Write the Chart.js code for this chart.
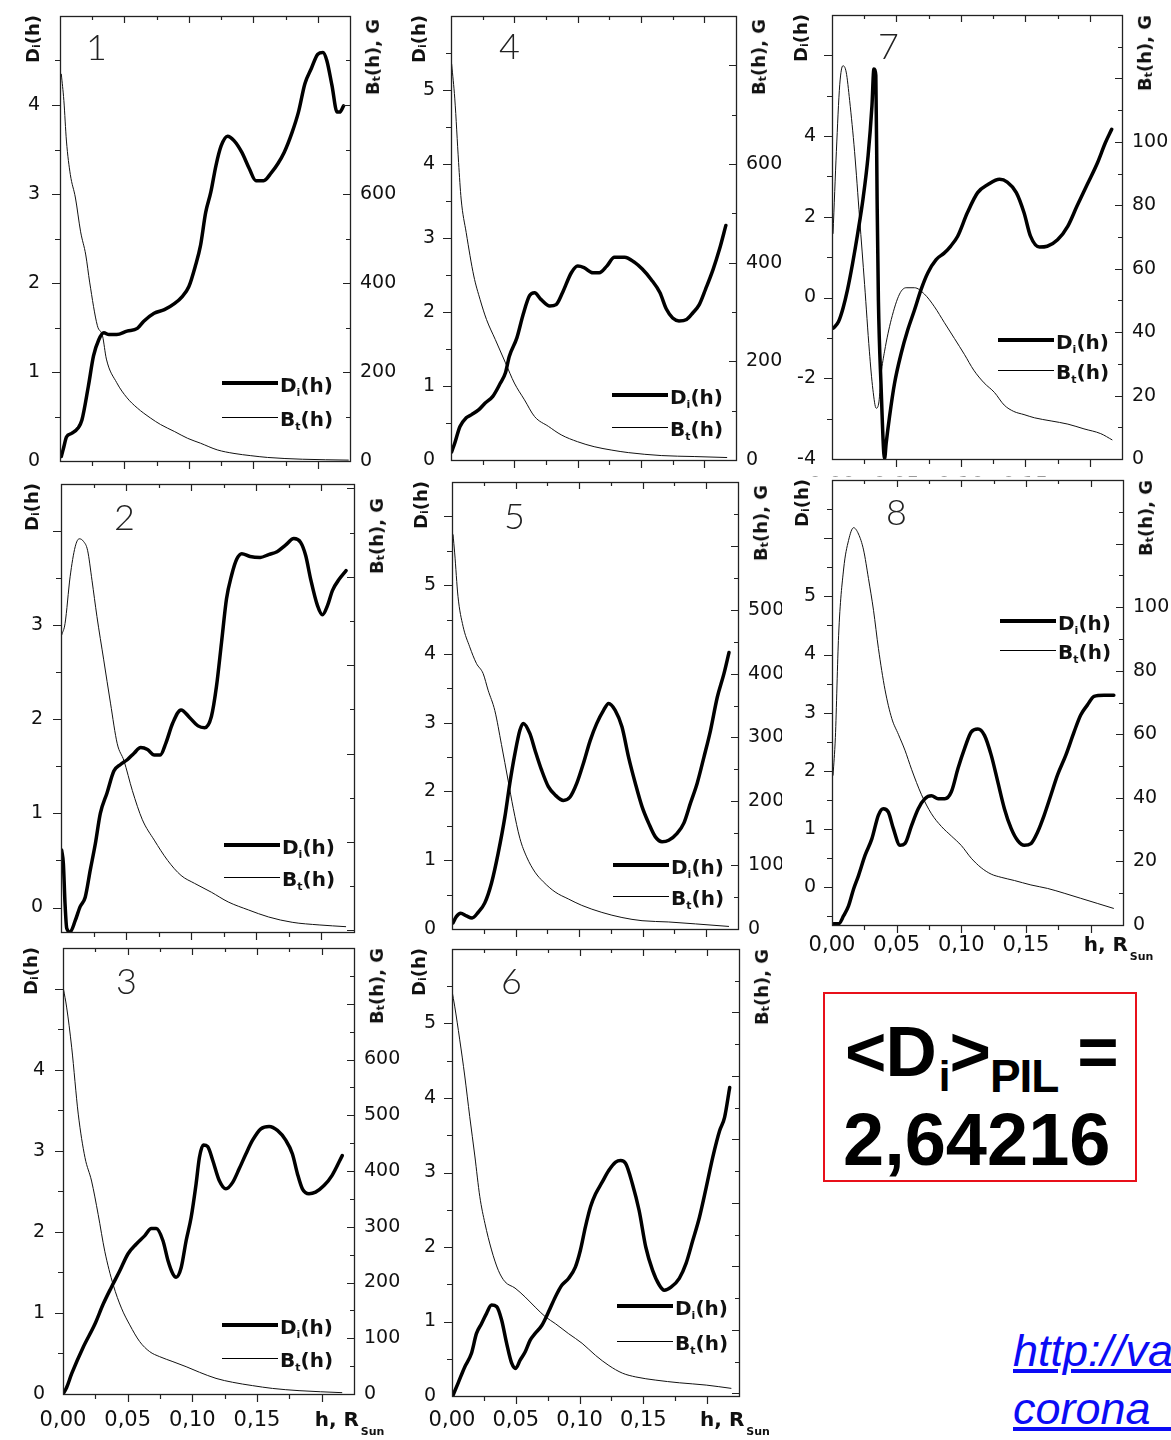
<!DOCTYPE html>
<html>
<head>
<meta charset="utf-8">
<script src="https://cdn.jsdelivr.net/npm/chart.js@4.4.1/dist/chart.umd.min.js"></script>
<style>
  html, body { margin: 0; padding: 0; background: #fff; }
  body { width: 1171px; height: 1440px; position: relative; overflow: hidden; font-family: "DejaVu Sans", sans-serif; }
  .panel { position: absolute; }
  .panel.white { background: #fff; }
  .panel canvas { display: block; }
  .ov { position: absolute; white-space: nowrap; color: #111; }
  .ytitle { writing-mode: vertical-rl; transform: rotate(180deg); font: bold 18px "DejaVu Sans"; line-height: 20px; }
  .ytitle sub, .leg sub { font-size: 11px; vertical-align: -4px; line-height: 0; }
  .leg { font: bold 20px "DejaVu Sans"; line-height: 20px; }
  .legline { position: absolute; background: #000; }
  .num { font-family: Lato, "DejaVu Sans", sans-serif; font-weight: 300; font-size: 36px; line-height: 36px; color: #222; }
  .xtitle { font: bold 20px "DejaVu Sans"; line-height: 20px; }
  .xtitle sub { font-size: 11px; vertical-align: -9px; line-height: 0; margin-left: 2px; }
  .big { position: absolute; font-family: "Liberation Sans", Arial, sans-serif; font-weight: bold; color: #000; white-space: nowrap; }
</style>
</head>
<body>
<div style="position:absolute;left:823px;top:992px;width:310px;height:186px;border:2px solid #e8101a;"></div>
<div class="big" style="left:845px;top:1015px;font-size:71px;line-height:73px;letter-spacing:-1px;">&lt;D<span style="font-size:42px;position:relative;top:15px;margin-left:3px;">i</span>&gt;<span style="font-size:46px;position:relative;top:16px;">PIL</span> =</div>
<div class="big" style="left:843px;top:1103px;font-size:74px;line-height:73px;">2,64216</div>
<div style="position:absolute;left:1013px;top:1322px;width:158px;overflow:hidden;font:italic 45px 'Liberation Sans',Arial,sans-serif;line-height:58px;color:#0b0bf5;text-decoration:underline;white-space:nowrap;">http://va<br>corona_</div>

<script>
// shared x axis
const xMax = 0.225;
const xTickValues = [0, 0.05, 0.10, 0.15];
const xTickText = ['0,00', '0,05', '0,10', '0,15'];

// panel 1
const d1x = [0.001,0.003,0.005,0.009,0.014,0.017,0.022,0.026,0.030,0.034,0.038,0.044,0.052,0.060,0.065,0.073,0.081,0.089,0.095,0.100,0.105,0.109,0.113,0.117,0.121,0.125,0.130,0.135,0.141,0.147,0.152,0.158,0.164,0.169,0.174,0.180,0.185,0.190,0.195,0.200,0.204,0.207,0.211,0.215,0.217,0.220];
const d1y = [0.05,0.16,0.27,0.31,0.37,0.46,0.84,1.18,1.36,1.44,1.42,1.42,1.46,1.49,1.57,1.66,1.70,1.77,1.85,1.96,2.19,2.42,2.79,3.02,3.32,3.54,3.65,3.60,3.47,3.28,3.15,3.15,3.24,3.34,3.47,3.69,3.92,4.24,4.41,4.57,4.59,4.50,4.22,3.92,3.92,3.99];
const b1x = [0.001,0.003,0.005,0.008,0.012,0.016,0.020,0.023,0.029,0.033,0.036,0.044,0.052,0.060,0.070,0.078,0.089,0.099,0.109,0.122,0.135,0.148,0.161,0.188,0.224];
const b1y = [870,810,719,644,591,515,463,402,304,281,229,176,142,119,97,82,66,51,40,25,17,12,8,4,2];
const p1Left = [0,1,2,3,4], p1Right = [0,200,400,600];

// panel 4
const d4x = [0.0005,0.003,0.007,0.012,0.016,0.022,0.027,0.033,0.039,0.043,0.046,0.052,0.057,0.062,0.066,0.071,0.078,0.083,0.088,0.095,0.100,0.105,0.112,0.117,0.123,0.129,0.137,0.145,0.151,0.158,0.165,0.170,0.175,0.180,0.186,0.191,0.196,0.201,0.207,0.212,0.217];
const d4y = [0.11,0.23,0.45,0.57,0.61,0.68,0.77,0.86,1.04,1.18,1.40,1.65,1.97,2.22,2.26,2.17,2.08,2.10,2.26,2.53,2.62,2.60,2.53,2.53,2.62,2.74,2.74,2.67,2.58,2.44,2.26,2.04,1.92,1.88,1.90,1.99,2.10,2.31,2.58,2.85,3.17];
const b4x = [0.0005,0.003,0.006,0.008,0.012,0.018,0.023,0.028,0.035,0.043,0.050,0.058,0.066,0.077,0.087,0.100,0.113,0.127,0.140,0.166,0.192,0.218];
const b4y = [803,732,603,529,461,373,325,285,244,197,156,122,88,68,51,37,27,20,15,9,7,5];
const p4Left = [0,1,2,3,4,5], p4Right = [0,200,400,600];

// panel 7
const d7x = [0.001,0.005,0.0085,0.012,0.016,0.020,0.024,0.028,0.031,0.0325,0.034,0.035,0.036,0.038,0.0408,0.042,0.0446,0.0485,0.0537,0.0588,0.064,0.069,0.0743,0.0808,0.087,0.092,0.0975,0.105,0.113,0.121,0.130,0.136,0.143,0.149,0.154,0.161,0.167,0.175,0.183,0.190,0.198,0.206,0.212,0.217];
const d7y = [-0.76,-0.60,-0.27,0.19,0.85,1.60,2.43,3.51,4.75,5.66,5.50,2.43,-0.06,-2.13,-3.99,-3.62,-2.96,-2.13,-1.38,-0.80,-0.31,0.19,0.61,0.94,1.10,1.27,1.52,2.10,2.60,2.80,2.93,2.86,2.60,2.10,1.52,1.25,1.27,1.43,1.77,2.26,2.80,3.34,3.83,4.17];
const b7x = [0.0008,0.0034,0.006,0.0085,0.011,0.0137,0.0175,0.0214,0.0253,0.029,0.0317,0.0343,0.0364,0.0382,0.0408,0.046,0.0524,0.0575,0.064,0.0717,0.0795,0.0872,0.095,0.1027,0.110,0.118,0.126,0.1336,0.141,0.149,0.157,0.170,0.183,0.1955,0.2085,0.2175];
const b7y = [71,97,118,124,122,113,97,76,55,34,22,16,18,27,34,44,52,54,54,52,48,43,38,33,28,24,21,17,15,14,13,12,11,9.5,8,6];
const p7Left = [-4,-2,0,2,4], p7Right = [0,20,40,60,80,100];

// panel 2
const d2x = [0.0005,0.0018,0.0031,0.0044,0.007,0.0109,0.0147,0.0186,0.0225,0.0264,0.0302,0.0354,0.0406,0.0457,0.0509,0.0561,0.0612,0.0664,0.0716,0.0762,0.0806,0.0858,0.0922,0.0987,0.1052,0.1103,0.1155,0.1194,0.1233,0.1271,0.131,0.1349,0.1388,0.1452,0.153,0.1594,0.1659,0.1724,0.1788,0.184,0.1879,0.1917,0.1969,0.2008,0.2047,0.2085,0.2137,0.2189];
const d2y = [0.61,0.47,0.04,-0.22,-0.26,-0.14,0.01,0.11,0.40,0.68,1.00,1.22,1.45,1.52,1.57,1.64,1.70,1.68,1.62,1.62,1.75,1.96,2.10,2.02,1.93,1.91,2.03,2.35,2.82,3.28,3.53,3.70,3.76,3.73,3.72,3.75,3.78,3.85,3.92,3.88,3.74,3.49,3.21,3.11,3.21,3.37,3.49,3.58];
const b2x = [0.0005,0.0031,0.007,0.0109,0.014,0.0173,0.0204,0.0238,0.0276,0.0328,0.038,0.0432,0.0483,0.0548,0.0625,0.0716,0.0819,0.0922,0.1026,0.1155,0.1284,0.1439,0.1594,0.1775,0.1982,0.2189];
const b2y = [334,347,400,434,443,440,430,396,355,306,257,211,192,158,125,102,79,62,53,43,32,23,15,9,6,4];
const p2Left = [0,1,2,3], p2Right = [0,100,200,300];

// panel 5
const d5x = [0.0008,0.0034,0.0068,0.0113,0.0158,0.0205,0.0258,0.0311,0.0363,0.0416,0.0455,0.0495,0.0534,0.0561,0.0613,0.0653,0.0705,0.0758,0.0811,0.0876,0.0929,0.0982,0.1034,0.1087,0.1139,0.1192,0.1232,0.1284,0.1337,0.1389,0.1442,0.1495,0.1547,0.16,0.1653,0.1705,0.1771,0.1824,0.1876,0.1929,0.1982,0.2034,0.2087,0.2139,0.2179];
const d5y = [0.09,0.18,0.23,0.19,0.16,0.24,0.38,0.67,1.10,1.63,2.12,2.55,2.89,2.99,2.84,2.60,2.31,2.07,1.95,1.87,1.92,2.12,2.41,2.74,2.99,3.18,3.28,3.18,2.94,2.50,2.12,1.78,1.54,1.34,1.27,1.29,1.39,1.54,1.83,2.12,2.50,2.89,3.37,3.71,4.02];
const b5x = [0.0008,0.0021,0.0047,0.0087,0.0139,0.0192,0.0245,0.0284,0.0337,0.0389,0.0442,0.0482,0.0534,0.0587,0.0653,0.0718,0.0811,0.0916,0.1021,0.1179,0.1337,0.1495,0.1705,0.1916,0.2179];
const b5y = [618,589,521,474,442,416,400,374,342,289,232,189,142,113,89,74,58,47,37,26,18,13,11,8,4];
const p5Left = [0,1,2,3,4,5], p5Right = [0,100,200,300,400,500];

// panel 8
const d8x = [0.0013,0.0051,0.009,0.0128,0.0167,0.0205,0.0256,0.0308,0.0359,0.0397,0.0436,0.0474,0.0526,0.0564,0.0615,0.0667,0.0718,0.0769,0.0821,0.0872,0.0923,0.0974,0.1026,0.1077,0.1128,0.1179,0.1231,0.1282,0.1333,0.1385,0.1436,0.1487,0.1538,0.159,0.1641,0.1692,0.1744,0.1808,0.1872,0.1923,0.1974,0.2026,0.2103,0.2179];
const d8y = [-0.63,-0.63,-0.49,-0.32,-0.03,0.20,0.55,0.83,1.24,1.35,1.29,1.01,0.72,0.75,1.06,1.35,1.52,1.57,1.52,1.52,1.64,2.04,2.39,2.67,2.72,2.61,2.27,1.81,1.35,1.01,0.80,0.72,0.75,0.95,1.24,1.58,1.93,2.27,2.67,2.96,3.13,3.28,3.30,3.30];
const b8x = [0.0008,0.0026,0.0051,0.009,0.0128,0.0167,0.0205,0.0244,0.0282,0.0321,0.0359,0.041,0.0462,0.0513,0.0564,0.0615,0.0692,0.0769,0.0846,0.0923,0.1,0.1077,0.1154,0.1231,0.1308,0.141,0.1538,0.1667,0.1795,0.1923,0.2051,0.2179];
const b8y = [47,59,91,112,121,125,123,118,109,99,87,74,65,60,55,49,41,35,31,28,25,21,18,16,15,14,12.6,11.5,10,8.4,6.8,5.2];
const p8Left = [0,1,2,3,4,5], p8Right = [0,20,40,60,80,100];

// panel 3
const d3x = [0.0008,0.0028,0.0067,0.0157,0.0246,0.0311,0.0375,0.0439,0.0503,0.0567,0.0631,0.0683,0.0721,0.0773,0.0811,0.085,0.0875,0.0914,0.0952,0.0991,0.1029,0.1055,0.1086,0.1119,0.1158,0.1209,0.126,0.1312,0.1363,0.1414,0.1466,0.153,0.1594,0.1658,0.1722,0.1774,0.1812,0.1851,0.1902,0.1953,0.2018,0.2082,0.2159];
const d3y = [0.02,0.08,0.25,0.58,0.86,1.11,1.32,1.52,1.73,1.85,1.95,2.04,2.04,1.89,1.65,1.48,1.44,1.56,1.89,2.18,2.59,2.92,3.07,3.05,2.88,2.63,2.53,2.61,2.78,2.96,3.13,3.27,3.30,3.25,3.13,2.96,2.72,2.53,2.47,2.49,2.57,2.70,2.94];
const b3x = [0.0003,0.0028,0.0067,0.0118,0.017,0.0221,0.0272,0.0323,0.0388,0.0452,0.0516,0.0593,0.067,0.0747,0.085,0.0952,0.1055,0.1183,0.1312,0.1466,0.162,0.1825,0.2159];
const b3y = [727,694,622,502,424,382,322,256,196,154,124,94,76,67,58,49,39,28,21,15,10,6,2.4];
const p3Left = [0,1,2,3,4], p3Right = [0,100,200,300,400,500,600];

// panel 6
const d6x = [0.0008,0.0047,0.01,0.0152,0.0192,0.0231,0.0271,0.031,0.035,0.0389,0.0428,0.0468,0.0499,0.0534,0.0573,0.0613,0.0652,0.0705,0.0757,0.081,0.0862,0.0915,0.0967,0.1007,0.1046,0.1086,0.1125,0.1177,0.123,0.1283,0.1322,0.1362,0.1414,0.1467,0.1519,0.1572,0.1625,0.1664,0.1717,0.1782,0.1835,0.1888,0.194,0.1993,0.2045,0.2098,0.2137,0.2177];
const d6y = [0.01,0.17,0.39,0.57,0.84,0.97,1.11,1.22,1.20,1.02,0.71,0.44,0.37,0.48,0.59,0.75,0.84,0.95,1.13,1.33,1.49,1.58,1.73,1.96,2.27,2.54,2.71,2.87,3.03,3.14,3.16,3.12,2.85,2.49,2.00,1.69,1.49,1.42,1.46,1.58,1.78,2.09,2.40,2.80,3.21,3.56,3.74,4.14];
const b6x = [0,0.0021,0.006,0.01,0.0139,0.0179,0.0218,0.0258,0.031,0.0363,0.0415,0.0494,0.0573,0.0652,0.0731,0.081,0.0915,0.102,0.1125,0.123,0.1336,0.1441,0.1598,0.1782,0.1993,0.219];
const b6y = [317,305,279,250,218,187,155,134,113,97,88,83,76,68,60.5,55,47,39.5,30,22,16,13,10.5,8.4,6.6,4];
const p6Left = [0,1,2,3,4,5], p6Right = [0,50,100,150,200,250];

// layout of each panel: plot area [left, top, right, bottom] on the page, axis ranges, overlay offsets
const panels = [
  { num: '1', area: [60, 16, 350, 461], D: [d1x, d1y], B: [b1x, b1y], padL: 48, white: false,
    y: [0, 5, 1, 0.5, p1Left], y1: [0, 1000, 200, 100, p1Right], leftPad: 20,
    xLab: false, leg: [162, 367, 401], numAt: [28, 17], yt: -27, y1t: 3 },
  { num: '4', area: [451, 16, 736, 460], D: [d4x, d4y], B: [b4x, b4y], padL: 48, white: false,
    y: [0, 6, 1, 0.5, p4Left], y1: [0, 900, 200, 100, p4Right], leftPad: 16,
    xLab: false, leg: [161, 379, 411], numAt: [50, 16], yt: -32, y1t: 3 },
  // x labels of panel 7 sit mostly under panel 8, only their tops peek out
  { num: '7', area: [832, 15, 1122, 459], D: [d7x, d7y], B: [b7x, b7y], padL: 50, white: true,
    y: [-4, 7, 2, 1, p7Left], y1: [0, 140, 20, 10, p7Right], leftPad: 16,
    xLab: true, xPad: 15, xt: 20, xColor: '#999', leg: [166, 325, 355], numAt: [48, 17], yt: -31, y1t: 0 },
  { num: '2', area: [61, 484, 354, 932], D: [d2x, d2y], B: [b2x, b2y], padL: 48, white: false,
    y: [-0.26, 4.5, 1, 0.5, p2Left], y1: [-2, 505, 100, 50, p2Right], leftPad: 18,
    xLab: false, leg: [163, 361, 393], numAt: [55, 19], yt: -29, y1t: 14 },
  { num: '5', area: [452, 482, 738, 929], D: [d5x, d5y], B: [b5x, b5y], padL: 48, white: false,
    y: [0, 6.5, 1, 0.5, p5Left], y1: [0, 700, 100, 50, p5Right], leftPad: 16,
    xLab: false, leg: [161, 383, 414], numAt: [54, 20], yt: -31, y1t: 3 },
  { num: '8', area: [832, 480, 1123, 925], D: [d8x, d8y], B: [b8x, b8y], padL: 50, white: true, padT: 3,
    y: [-0.65, 7, 1, 0.5, p8Left], y1: [0, 140, 20, 10, p8Right], leftPad: 16,
    xLab: true, xPad: 8, xt: 11, leg: [168, 141, 170], numAt: [56, 18], yt: -30, y1t: 0 },
  { num: '3', area: [63, 948, 354, 1394], D: [d3x, d3y], B: [b3x, b3y], padL: 48, white: false,
    y: [0, 5.5, 1, 0.5, p3Left], y1: [0, 800, 100, 50, p3Right], leftPad: 18,
    xLab: true, xPad: 14, xt: 17, leg: [159, 377, 410], numAt: [55, 19], yt: -32, y1t: 0 },
  { num: '6', area: [452, 949, 739, 1396], D: [d6x, d6y], B: [b6x, b6y], padL: 48, white: false,
    y: [0, 6, 1, 0.5, p6Left], y1: [-2, 350, 50, 25, p6Right], leftPad: 16,
    xLab: true, xPad: 12, xt: 15, leg: [165, 357, 392], numAt: [51, 18], yt: -33, y1t: 0 }
];

const PAD_R = 48, PAD_T = 12;

function pick(v, list, text) {
  const i = list.findIndex(t => Math.abs(t - v) < 1e-9);
  if (i < 0) return '';
  return text ? text[i] : String(list[i]);
}

function zip(xs, ys) {
  return xs.map((x, i) => ({ x: x, y: ys[i] }));
}

// fixed axis box sizes, no extra label overhang padding
function fixBox(s, w, h) {
  if (w !== null) s.width = w;
  if (h !== null) s.height = h;
  s.paddingTop = 0; s.paddingBottom = 0; s.paddingLeft = 0; s.paddingRight = 0;
}

// frame plus tick marks: bottom/left outward, top/right inward
const frameTicks = {
  id: 'frameTicks',
  afterDatasetsDraw(chart, args, opts) {
    const { ctx, chartArea: a, scales } = chart;
    const p = opts.p;
    ctx.save();
    ctx.strokeStyle = '#222';
    ctx.lineWidth = 1.3;
    ctx.strokeRect(Math.round(a.left) + 0.5, Math.round(a.top) + 0.5,
      Math.round(a.right - a.left), Math.round(a.bottom - a.top));
    ctx.lineWidth = 1.2;
    ctx.beginPath();
    const marks = (scale, min, max, major, minor, draw) => {
      const k0 = Math.ceil(min / minor - 1e-6), k1 = Math.floor(max / minor + 1e-6);
      for (let k = k0; k <= k1; k++) {
        const v = k * minor;
        const r = v / major;
        const isMajor = Math.abs(r - Math.round(r)) < 1e-6;
        draw(Math.round(scale.getPixelForValue(v)) + 0.5, isMajor ? 7 : 4);
      }
    };
    marks(scales.x, 0.001, xMax - 0.001, 0.05, 0.025, (px, len) => {
      ctx.moveTo(px, a.bottom); ctx.lineTo(px, a.bottom + len + 1);
      ctx.moveTo(px, a.top); ctx.lineTo(px, a.top + len);
    });
    marks(scales.y, p.y[0] + 1e-3, p.y[1] - 1e-3, p.y[2], p.y[3], (py, len) => {
      ctx.moveTo(a.left, py); ctx.lineTo(a.left - len - 1, py);
    });
    marks(scales.y1, p.y1[0] + 1e-3, p.y1[1] - 1e-3, p.y1[2], p.y1[3], (py, len) => {
      ctx.moveTo(a.right, py); ctx.lineTo(a.right - len, py);
    });
    ctx.stroke();
    ctx.restore();
  }
};

function el(tag, cls, parent) {
  const e = document.createElement(tag);
  if (cls) e.className = cls;
  parent.appendChild(e);
  return e;
}

function makePanel(p) {
  const [cl, ct, cr, cb] = p.area;
  const padB = p.xLab ? 40 : 12;
  const padT = p.padT !== undefined ? p.padT : PAD_T;
  const W = p.padL + (cr - cl) + PAD_R;
  const H = padT + (cb - ct) + padB;
  const wrap = el('div', 'panel' + (p.white ? ' white' : ''), document.body);
  wrap.style.left = (cl - p.padL) + 'px';
  wrap.style.top = (ct - padT) + 'px';
  wrap.style.width = W + 'px';
  wrap.style.height = H + 'px';
  const cv = el('canvas', '', wrap);
  cv.width = W; cv.height = H;
  cv.style.width = W + 'px'; cv.style.height = H + 'px';

  const chart = new Chart(cv, {
    type: 'line',
    data: {
      datasets: [
        { label: 'D', data: zip(p.D[0], p.D[1]), yAxisID: 'y', borderColor: '#000', borderWidth: 3.5,
          pointRadius: 0, cubicInterpolationMode: 'monotone', order: 0, borderCapStyle: 'round', borderJoinStyle: 'round' },
        { label: 'B', data: zip(p.B[0], p.B[1]), yAxisID: 'y1', borderColor: '#111', borderWidth: 1,
          pointRadius: 0, cubicInterpolationMode: 'monotone', order: 1 }
      ]
    },
    options: {
      responsive: false,
      animation: false,
      devicePixelRatio: 1,
      events: [],
      layout: { padding: { top: padT, left: 0, right: 0, bottom: 0 } },
      plugins: { legend: { display: false }, tooltip: { enabled: false }, frameTicks: { p: p } },
      scales: {
        x: {
          type: 'linear', position: 'bottom', min: 0, max: xMax,
          afterFit: s => fixBox(s, null, padB),
          grid: { display: false, drawTicks: false }, border: { display: false },
          ticks: {
            display: p.xLab, stepSize: 0.05, includeBounds: false, autoSkip: false, maxRotation: 0,
            padding: p.xPad || 0, color: p.xColor || '#111', font: { family: 'DejaVu Sans', size: 21 },
            callback: v => pick(v, xTickValues, xTickText)
          }
        },
        y: {
          type: 'linear', position: 'left', min: p.y[0], max: p.y[1],
          afterFit: s => fixBox(s, p.padL, null),
          grid: { display: false, drawTicks: false }, border: { display: false },
          ticks: {
            stepSize: p.y[2], includeBounds: false, autoSkip: false, padding: p.leftPad,
            color: '#111', font: { family: 'DejaVu Sans', size: 19 },
            callback: v => pick(v, p.y[4])
          }
        },
        y1: {
          type: 'linear', position: 'right', min: p.y1[0], max: p.y1[1],
          afterFit: s => fixBox(s, PAD_R, null),
          grid: { display: false, drawTicks: false }, border: { display: false },
          ticks: {
            stepSize: p.y1[2], includeBounds: false, autoSkip: false, padding: 10,
            color: '#111', font: { family: 'DejaVu Sans', size: 19 },
            callback: v => pick(v, p.y1[4])
          }
        }
      }
    },
    plugins: [frameTicks]
  });

  const a = chart.chartArea;

  // panel number
  const n = el('div', 'ov num', wrap);
  n.textContent = p.num;
  n.style.left = (a.left + p.numAt[0] - 2) + 'px';
  n.style.top = (a.top + p.numAt[1] - 5) + 'px';

  // axis titles
  const yt = el('div', 'ov ytitle', wrap);
  yt.innerHTML = 'D<sub>i</sub>(h)';
  yt.style.left = (a.left + p.yt - 10) + 'px';
  yt.style.top = (a.top - 1) + 'px';

  const y1t = el('div', 'ov ytitle', wrap);
  y1t.innerHTML = 'B<sub>t</sub>(h), G';
  y1t.style.left = (a.right + 23 - 10) + 'px';
  y1t.style.top = (a.top + p.y1t) + 'px';

  if (p.xLab) {
    const xt = el('div', 'ov xtitle', wrap);
    xt.innerHTML = 'h, R<sub>Sun</sub>';
    xt.style.left = (chart.scales.x.getPixelForValue(0.2) - 7) + 'px';
    xt.style.top = (a.bottom + p.xt - 2) + 'px';
    if (p.xColor) xt.style.color = p.xColor;
  }

  // legend
  const lx = a.left + p.leg[0];
  [[p.leg[1], 4, 'D', 'i'], [p.leg[2], 1, 'B', 't']].forEach(([dy, w, ch, s]) => {
    const y = Math.round(a.top + dy);
    const line = el('div', 'legline', wrap);
    line.style.left = lx + 'px';
    line.style.top = (y - Math.floor(w / 2)) + 'px';
    line.style.width = '56px';
    line.style.height = w + 'px';
    const t = el('div', 'ov leg', wrap);
    t.innerHTML = ch + '<sub>' + s + '</sub>(h)';
    t.style.left = (lx + 58) + 'px';
    t.style.top = (y - 8) + 'px';
  });
}

Chart.defaults.font.family = 'DejaVu Sans';
panels.forEach(makePanel);
</script>
</body>
</html>
